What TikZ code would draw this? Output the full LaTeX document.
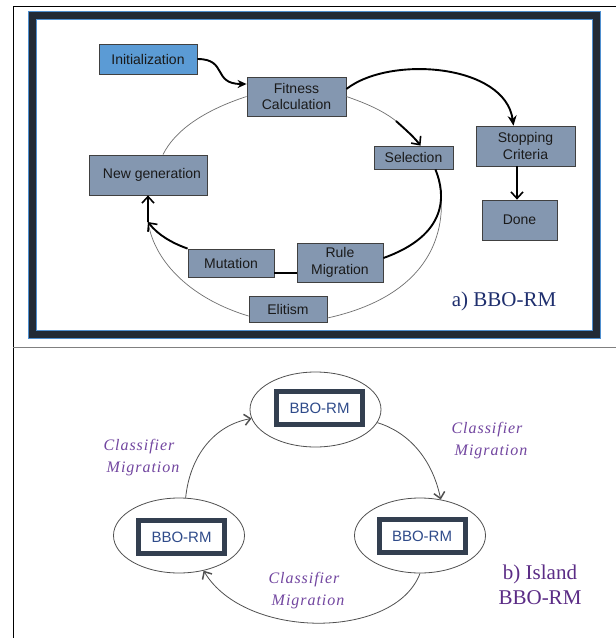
\documentclass[tikz,border=0pt]{standalone}
\usepackage{fontspec}
\setmainfont{Liberation Sans}
\newfontfamily\seriffam{Liberation Serif}
\newfontfamily\labfam[LetterSpace=6]{Liberation Serif}
\usetikzlibrary{arrows.meta,shapes.geometric,calc}
\definecolor{boxfill}{HTML}{8497B0}
\definecolor{boxline}{HTML}{404040}
\definecolor{boxtext}{HTML}{1A1A1A}
\definecolor{initfill}{HTML}{5B9BD5}
\definecolor{thingray}{HTML}{6F6F6F}
\definecolor{framedark}{HTML}{222A35}
\definecolor{frameblue}{HTML}{4F8FCF}
\definecolor{ellline}{HTML}{505050}
\definecolor{coreline}{HTML}{333F50}
\definecolor{coretext}{HTML}{2F4B8A}
\definecolor{labpurple}{HTML}{7246A0}
\definecolor{islandpurple}{HTML}{5B2C86}
\definecolor{anavy}{HTML}{1F2F6E}
\begin{document}
\begin{tikzpicture}[x=1pt,y=-1pt,
  box/.style={draw=boxline, fill=boxfill, line width=0.8pt, inner sep=0pt, align=center, text=boxtext, font=\fontsize{14}{16.5}\selectfont},
  faint/.style={draw=thingray, line width=0.7pt},
  heavy/.style={draw=black, line width=1.9pt},
  barb/.style={-{Straight Barb[length=6.5pt,width=12pt,line width=1.6pt]}},
  stl/.style={-{Stealth[length=10pt,width=9pt]}},
  isle/.style={ellipse, draw=ellline, line width=0.8pt, minimum width=131pt, minimum height=75pt, inner sep=0pt},
  core/.style={draw=coreline, line width=5pt, fill=white, minimum width=86pt, minimum height=33pt, inner sep=0pt, text=coretext, font=\fontsize{15}{18}\selectfont},
  islarrow/.style={draw=ellline, line width=0.8pt, -{Straight Barb[length=6pt,width=11pt,line width=1.5pt]}},
  lab/.style={text=labpurple, font=\labfam\itshape\fontsize{16}{22}\selectfont, align=center},
  ]
\useasboundingbox (0,0) rectangle (616,638);
\fill[white] (0,0) rectangle (616,638);
% outer lines
\draw[black, line width=1pt] (13,638) -- (13,6) -- (616,6);
\draw[gray, line width=1pt] (13,347) -- (616,347);
% thick frame
\draw[fill=framedark, draw=frameblue, line width=1pt] (28,11) rectangle (600,338);
\draw[fill=white, draw=frameblue, line width=1pt] (36.5,19) rectangle (592,330);

% top boxes
\node[box, fill=initfill, minimum width=98pt, minimum height=30pt] (init) at (148,59) {Initialization};
\node[box, minimum width=99pt, minimum height=39pt] (fit) at (296.5,96.5) {Fitness\\Calculation};
\node[box, minimum width=79pt, minimum height=23pt] (sel) at (413.5,157.5) {Selection};
\node[box, minimum width=99pt, minimum height=40pt] (stop) at (525.5,146) {Stopping\\Criteria};
\node[box, minimum width=75pt, minimum height=40pt] (done) at (519.5,220) {Done};
\node[box, minimum width=118pt, minimum height=40pt] (newg) at (148,175) {\hspace*{8pt}New generation};
\node[box, minimum width=86pt, minimum height=28pt] (mut) at (231,263) {Mutation};
\node[box, minimum width=86pt, minimum height=39pt] (rule) at (340,262.5) {Rule\\Migration};
\node[box, minimum width=78pt, minimum height=26pt] (elit) at (288,309) {Elitism};
\node[text=anavy, font=\seriffam\fontsize{21}{25}\selectfont] (alab) at (504,301) {a) BBO-RM};

% top connectors
\draw[heavy,-{Stealth[length=9pt,width=8pt]}] (init.east) .. controls (228,59) and (212,84) .. ([yshift=12.5pt]fit.west);
\draw[heavy,stl] ([yshift=7.5pt]fit.east) .. controls (390,55) and (505,64) .. ([xshift=-12pt]stop.north);
\coordinate (m) at (396,121);
\draw[faint] (fit.east) .. controls (365,103) and (382,110) .. (m);
\draw[heavy,barb] (m) .. controls (406,130) and (414,137) .. ([xshift=7pt]sel.north);
\draw[faint] (fit.west) .. controls (205,110) and (175,130) .. ([xshift=15pt]newg.north);
\draw[faint] ([xshift=-18pt]sel.south east) .. controls (447,200) and (455,290) .. ([yshift=-9pt]elit.east);
\draw[heavy] ([xshift=-18pt]sel.south east) .. controls (446,195) and (448,235) .. ([yshift=4.5pt]rule.east);
\coordinate (j) at (148,222);
\draw[faint] ([yshift=-7pt]elit.west) .. controls (195,300) and (155,265) .. (j);
\draw[heavy,barb] (mut.north west) .. controls (172,243) and (158,235) .. (j);
\draw[heavy,barb] (j) -- (newg.south);
\draw[heavy] ([yshift=-10pt]mut.east) -- ([yshift=-10pt]mut.east -| rule.west);
\draw[heavy,barb] ([xshift=-8.5pt]stop.south) -- ([xshift=-2.5pt]done.north);

% bottom panel
\node[isle] (topE) at (315.5,409.5) {};
\node[isle] (leftE) at (179,535.5) {};
\node[isle] (rightE) at (420,535.5) {};
\node[core] (topC) at (319.5,408) {BBO-RM};
\node[core] (leftC) at (181.5,537) {BBO-RM};
\node[core] (rightC) at (422,536) {BBO-RM};

\draw[islarrow] (leftE.80) .. controls (190,455) and (215,425) .. (topE.188);
\draw[islarrow] (topE.-12) .. controls (408,432) and (432,458) .. (rightE.60);
\draw[islarrow] (rightE.south) .. controls (395,640) and (245,640) .. (leftE.-55);

\node[lab] (l1) at (139,458) {Classifier\\\hspace*{8pt}Migration};
\node[lab] (l2) at (487,440.5) {Classifier\\\hspace*{8pt}Migration};
\node[lab] (l3) at (304,590.5) {Classifier\\\hspace*{8pt}Migration};
\node[text=islandpurple, font=\seriffam\fontsize{21}{25}\selectfont, align=center] (blab) at (540,584.5) {b) Island\\BBO-RM};
\end{tikzpicture}
\end{document}
